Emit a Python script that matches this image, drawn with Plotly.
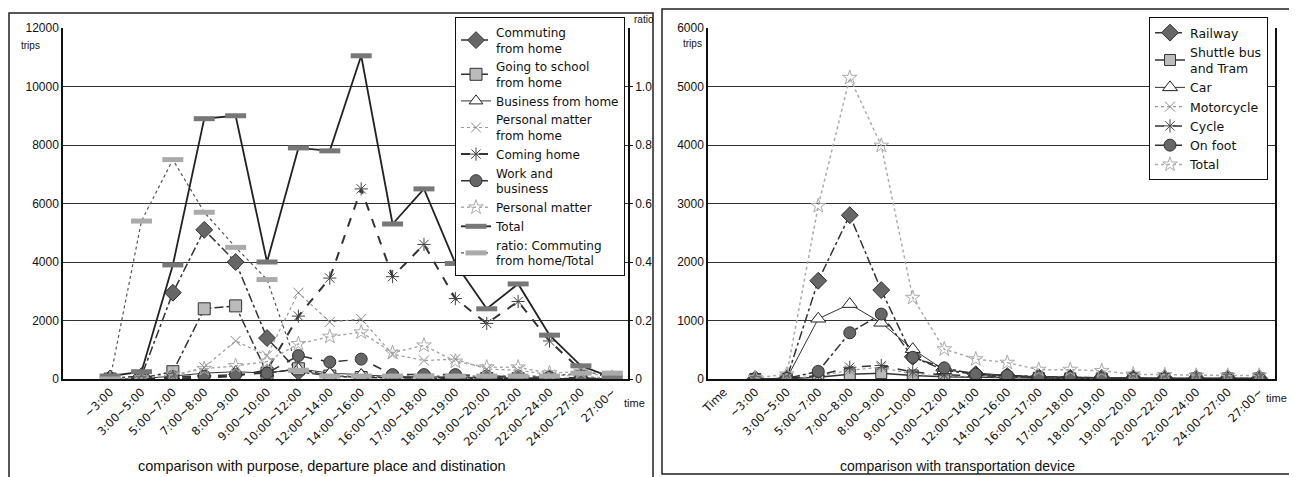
import plotly.graph_objects as go

W, H = 1297, 477
OFF = 8  # page body margin in the browser

# ---------------- data ----------------
time_left = [" ", "~3:00", "3:00~5:00", "5:00~7:00", "7:00~8:00", "8:00~9:00", "9:00~10:00",
             "10:00~12:00", "12:00~14:00", "14:00~16:00", "16:00~17:00", "17:00~18:00",
             "18:00~19:00", "19:00~20:00", "20:00~22:00", "22:00~24:00", "24:00~27:00", "27:00~"]
time_right = ["Time"] + time_left[1:]
slots = time_left[1:]

commuting = [20, 100, 2950, 5100, 4000, 1400, 250, 100, 60, 50, 50, 40, 30, 30, 20, 10, 5]
school = [0, 30, 250, 2400, 2500, 200, 350, 100, 50, 30, 30, 20, 20, 10, 10, 5, 0]
business = [0, 10, 100, 200, 250, 200, 350, 200, 150, 80, 80, 60, 40, 30, 20, 10, 5]
personal_home = [10, 20, 100, 400, 1300, 800, 2950, 1950, 2050, 850, 630, 680, 340, 300, 150, 100, 30]
coming_home = [20, 10, 20, 50, 100, 300, 2150, 3450, 6500, 3500, 4600, 2750, 1900, 2650, 1300, 300, 50]
work = [0, 10, 80, 100, 150, 200, 800, 580, 680, 150, 150, 150, 100, 80, 50, 30, 10]
personal = [10, 30, 150, 350, 450, 600, 1200, 1450, 1600, 900, 1150, 600, 400, 400, 200, 250, 50]
total_left = [100, 250, 3900, 8900, 9000, 4000, 7900, 7800, 11050, 5300, 6500, 3950, 2400, 3250, 1500, 450, 50]
ratio = [0.0, 0.54, 0.75, 0.57, 0.45, 0.34, 0.03, 0.01, 0.01, 0.01, 0.01, 0.01, 0.01, 0.01, 0.01, 0.02, 0.02]

railway = [0, 10, 1680, 2800, 1520, 380, 150, 80, 50, 30, 20, 20, 10, 10, 10, 10, 10]
bus_tram = [0, 5, 30, 80, 100, 60, 40, 30, 20, 20, 10, 10, 10, 10, 10, 10, 10]
car = [0, 10, 1030, 1280, 960, 510, 150, 100, 60, 40, 30, 20, 20, 10, 10, 10, 10]
motorcycle = [0, 5, 50, 150, 200, 80, 50, 40, 30, 20, 20, 10, 10, 10, 10, 10, 10]
cycle = [0, 5, 60, 200, 230, 120, 70, 50, 40, 30, 20, 20, 10, 10, 10, 10, 10]
on_foot = [0, 10, 130, 790, 1110, 370, 190, 80, 60, 40, 30, 20, 10, 10, 10, 10, 10]
total_right = [20, 80, 2960, 5150, 3990, 1390, 510, 340, 280, 160, 160, 140, 80, 70, 60, 60, 60]

left_ticks = [0, 2000, 4000, 6000, 8000, 10000, 12000]
ratio_ticks = [0, 0.2, 0.4, 0.6, 0.8, 1.0]
ratio_labels = ["0", "0.2", "0.4", "0.6", "0.8", "1.0"]
right_ticks = [0, 1000, 2000, 3000, 4000, 5000, 6000]

FONT = "Liberation Sans"
WIDE = "DejaVu Sans"
fig = go.Figure()


def px(x):
    return (x - OFF) / W


def py(y):
    return 1 - (y - OFF) / H


def add(x, y, name, xa, ya, dash, lcolor, lwidth, symbol, msize, mcolor, mline, legend):
    fig.add_trace(go.Scatter(
        x=x, y=y, name=name, mode="lines+markers", xaxis=xa, yaxis=ya, legend=legend,
        line=dict(color=lcolor, width=lwidth, dash=dash),
        marker=dict(symbol=symbol, size=msize, color=mcolor,
                    line=dict(color=mline, width=1)),
    ))


# ---- left chart ----
add(slots, commuting, "Commuting<br>from home", "x", "y", "dashdot", "#333", 1.5, "diamond", 13, "#666", "#333", "legend")
add(slots, school, "Going to school<br>from home", "x", "y", "dashdot", "#333", 1.5, "square", 12, "#bbb", "#333", "legend")
add(slots, business, "Business from home", "x", "y", "solid", "#333", 1, "triangle-up", 12, "white", "#222", "legend")
add(slots, personal_home, "Personal matter<br>from home", "x", "y", "dot", "#999", 1.2, "x-thin-open", 10, "#888", "#888", "legend")
add(slots, coming_home, "Coming home", "x", "y", "dash", "#333", 2, "asterisk-open", 11, "#444", "#444", "legend")
add(slots, work, "Work and<br>business", "x", "y", "dash", "#333", 1.5, "circle", 12, "#666", "#333", "legend")
add(slots, personal, "Personal matter", "x", "y", "dot", "#aaa", 1.5, "star-open", 11, "#aaa", "#aaa", "legend")
fig.add_trace(go.Scatter(
    x=slots, y=total_left, name="Total", mode="lines+markers", xaxis="x", yaxis="y", legend="legend",
    line=dict(color="#222", width=1.8, dash="solid"),
    marker=dict(symbol="line-ew", size=15, color="#888", line=dict(color="#777", width=5)),
))
fig.add_trace(go.Scatter(
    x=slots, y=ratio, name="ratio: Commuting<br>from home/Total", mode="lines+markers",
    xaxis="x", yaxis="y2", legend="legend",
    line=dict(color="#555", width=1.2, dash="dot"),
    marker=dict(symbol="line-ew", size=15, color="#ccc", line=dict(color="#aaa", width=5)),
))

# ---- right chart ----
add(slots, railway, "Railway", "x2", "y3", "dashdot", "#333", 1.5, "diamond", 13, "#666", "#333", "legend2")
add(slots, bus_tram, "Shuttle bus<br>and Tram", "x2", "y3", "solid", "#333", 1.5, "square", 11, "#bbb", "#333", "legend2")
add(slots, car, "Car", "x2", "y3", "solid", "#333", 1, "triangle-up", 13, "white", "#222", "legend2")
add(slots, motorcycle, "Motorcycle", "x2", "y3", "dot", "#999", 1.2, "x-thin-open", 10, "#888", "#888", "legend2")
add(slots, cycle, "Cycle", "x2", "y3", "dash", "#333", 1.5, "asterisk-open", 11, "#444", "#444", "legend2")
add(slots, on_foot, "On foot", "x2", "y3", "dashdot", "#333", 1.5, "circle", 12, "#666", "#333", "legend2")
add(slots, total_right, "Total", "x2", "y3", "dot", "#aaa", 1.5, "star-open", 11, "#aaa", "#aaa", "legend2")

ydom = [py(379), py(28)]
axfont = dict(family=FONT, size=12, color="#111")
xfont = dict(family=WIDE, size=11.5, color="#111")

fig.update_layout(
    width=W, height=H,
    margin=dict(l=0, r=0, t=0, b=0, autoexpand=False),
    paper_bgcolor="white", plot_bgcolor="white",
    font=dict(family=FONT, size=12, color="#111"),
    xaxis=dict(domain=[px(63), px(628)], anchor="y", type="category",
               categoryorder="array", categoryarray=time_left, range=[-0.5, 17.5],
               tickangle=-45, tickfont=xfont, showline=True, linecolor="#111", linewidth=1.5,
               showgrid=False, ticks="", automargin=False),
    yaxis=dict(domain=ydom, anchor="x", range=[0, 12000], tickvals=left_ticks,
               tickformat="d", tickfont=axfont, showline=True, linecolor="#111", linewidth=1.5,
               showgrid=True, gridcolor="#333", gridwidth=1, zeroline=False, ticks="",
               automargin=False),
    yaxis2=dict(overlaying="y", side="right", anchor="x", range=[0, 1.2],
                tickvals=ratio_ticks, ticktext=ratio_labels, tickfont=axfont,
                showline=True, linecolor="#111", linewidth=1.5, showgrid=False,
                zeroline=False, ticks="outside", ticklen=3, tickcolor="#111",
                automargin=False),
    xaxis2=dict(domain=[px(708), px(1275)], anchor="y3", type="category",
                categoryorder="array", categoryarray=time_right, range=[-0.5, 17.5],
                tickangle=-45, tickfont=xfont, showline=True, linecolor="#111", linewidth=1.5,
                showgrid=False, ticks="", automargin=False),
    yaxis3=dict(domain=ydom, anchor="x2", range=[0, 6000], tickvals=right_ticks,
                tickformat="d", tickfont=axfont, showline=True, mirror=True, linecolor="#111",
                linewidth=1.5, showgrid=True, gridcolor="#333", gridwidth=1, zeroline=False,
                ticks="", automargin=False),
    legend=dict(x=px(455), y=py(17), xanchor="left", yanchor="top",
                bgcolor="white", bordercolor="#111", borderwidth=1,
                font=dict(family=WIDE, size=12, color="#111"), itemwidth=30,
                tracegroupgap=0),
    legend2=dict(x=px(1149), y=py(17), xanchor="left", yanchor="top",
                 bgcolor="white", bordercolor="#111", borderwidth=1,
                 font=dict(family=WIDE, size=12.5, color="#111"), itemwidth=30,
                 tracegroupgap=0),
    showlegend=True,
)

shapes = [
    dict(type="rect", xref="paper", yref="paper", x0=px(9), x1=px(653), y0=py(490), y1=py(13),
         line=dict(color="#222", width=1.5)),
    dict(type="rect", xref="paper", yref="paper", x0=px(662), x1=px(1290), y0=py(474), y1=py(9),
         line=dict(color="#222", width=1.5)),
]
fig.update_layout(shapes=shapes)

ann = [
    (30, 45, "trips", 10, "center"),
    (692, 43, "trips", 10, "center"),
    (632, 20, "ratio", 10, "left"),
    (622, 403, "time", 11, "left"),
    (1264, 398, "time", 11, "left"),
    (322, 466, "comparison with purpose, departure place and distination", 14.5, "center"),
    (957, 466, "comparison with transportation device", 14, "center"),
]
for x, y, t, s, al in ann:
    fig.add_annotation(x=px(x), y=py(y), xref="paper", yref="paper", text=t, showarrow=False,
                       xanchor=al, yanchor="middle", font=dict(family=FONT, size=s, color="#111"))

fig.write_html("out.html")
